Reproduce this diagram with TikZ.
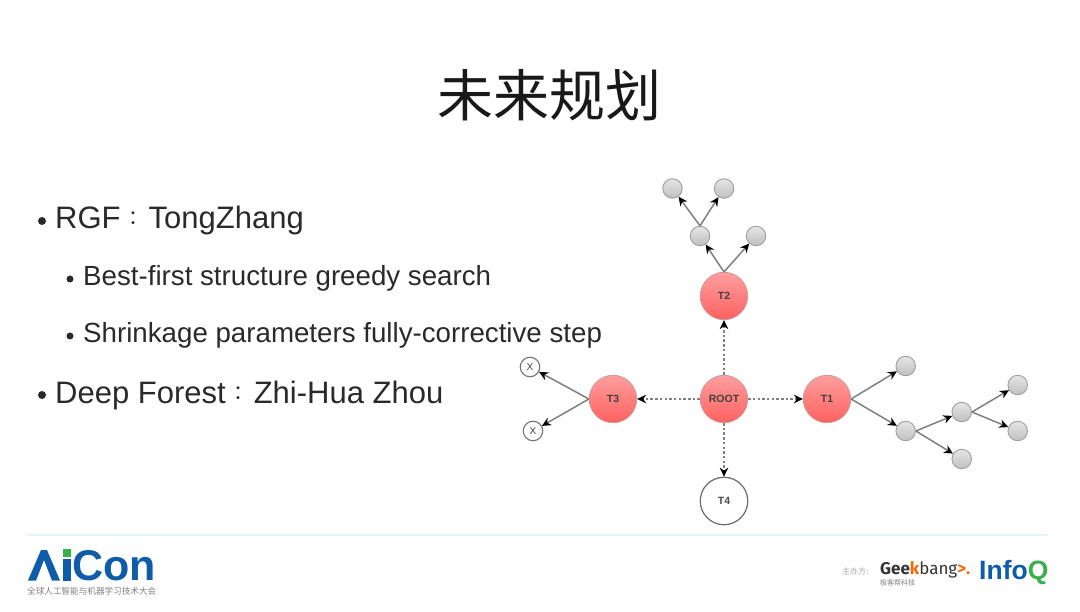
\documentclass[tikz,border=0pt]{standalone}
\usepackage{fontspec}
\setmainfont{Liberation Sans}
\newfontfamily\cjk{Noto Sans CJK SC}
\newfontfamily\logofont{Fira Sans}
\usetikzlibrary{arrows.meta,shadings}
\definecolor{txt}{HTML}{2A2A2A}
\definecolor{acblue}{HTML}{0F5CAB}
\definecolor{acgreen}{HTML}{35B04A}
\newcommand{\widecolon}{\hspace{8pt}\raisebox{4pt}{\cjk\fontsize{20}{22}\selectfont ：}}
\tikzset{
 x=1pt,y=-1pt,
 rednode/.style={circle,minimum size=47.5pt,inner sep=0pt,draw=red!40!black!40!white,line width=.7pt,top color=red!38!white,bottom color=red!62!white,font=\fontsize{10.5}{12}\selectfont\bfseries,text=black!75},
 leaf/.style={circle,minimum size=19.5pt,inner sep=0pt,draw=black!38,line width=.9pt,top color=black!10,bottom color=black!25},
 xnode/.style={circle,minimum size=19.5pt,inner sep=0pt,draw=black!55,line width=1.1pt,fill=white,font=\fontsize{10}{12}\selectfont,text=black!75},
 whitenode/.style={circle,minimum size=47.5pt,inner sep=0pt,draw=black!58,line width=1.2pt,fill=white,font=\fontsize{10.5}{12}\selectfont\bfseries,text=black!70},
 solidedge/.style={draw=black!50,line width=1.5pt,-{Stealth[black,length=9pt,width=8.5pt]}},
 dashedge/.style={draw=black!50,line width=1.3pt,dash pattern=on 2.5pt off 2.2pt,-{Stealth[black,length=9pt,width=8.5pt]}},
 body/.style={anchor=base west,inner sep=0pt,text=txt},
 bigtext/.style={body,font=\fontsize{31}{34}\selectfont},
 midtext/.style={body,font=\fontsize{27.7}{30}\selectfont},
 bullet/.style={circle,fill=txt,inner sep=0pt},
}
\begin{document}
\begin{tikzpicture}
\useasboundingbox (0,0) rectangle (1080,612);
\fill[white] (0,0) rectangle (1080,612);
\node[inner sep=0pt,text=black!90] (title) at (549,95) {\cjk\fontsize{56}{60}\selectfont 未来规划};
% bullets and text
\node[bullet,minimum size=8pt] (b1) at (42,221) {};
\node[bigtext] (t1) at (55,229) {RGF\widecolon TongZhang};
\node[bullet,minimum size=7pt] (b2) at (70,279) {};
\node[midtext] (t2) at (83,286) {Best-first structure greedy search};
\node[bullet,minimum size=7pt] (b3) at (70,336) {};
\node[midtext] (t3) at (83,343) {Shrinkage parameters fully-corrective step};
\node[bullet,minimum size=8pt] (b4) at (42,395) {};
\node[bigtext] (t4) at (55,404) {Deep Forest\widecolon Zhi-Hua Zhou};
% diagram nodes
\node[rednode] (root) at (724,399) {ROOT};
\node[rednode] (T1) at (827,399) {T1};
\node[rednode] (T2) at (724,296) {T2};
\node[rednode] (T3) at (613,399) {T3};
\node[whitenode] (T4) at (724,501) {T4};
\node[leaf] (a) at (700,236) {};
\node[leaf] (b) at (756,236) {};
\node[leaf] (c) at (672.5,188.5) {};
\node[leaf] (d) at (724,188.5) {};
\node[xnode] (x1) at (530,367) {X};
\node[xnode] (x2) at (533,431) {X};
\node[leaf] (e) at (905.7,366) {};
\node[leaf] (f) at (905.7,431) {};
\node[leaf] (g) at (961.7,412) {};
\node[leaf] (h) at (961.7,459) {};
\node[leaf] (i) at (1017.7,385) {};
\node[leaf] (j) at (1017.7,431) {};
% connectors
\draw[dashedge] (root) -- (T1);
\draw[dashedge] (root) -- (T2);
\draw[dashedge] (root) -- (T3);
\draw[dashedge] (root) -- (T4);
\draw[solidedge] (T2.north) -- (a);
\draw[solidedge] (T2.north) -- (b);
\draw[solidedge] (a.north) -- (c);
\draw[solidedge] (a.north) -- (d);
\draw[solidedge] (T3.west) -- (x1);
\draw[solidedge] (T3.west) -- (x2);
\draw[solidedge] (T1.east) -- (e);
\draw[solidedge] (T1.east) -- (f);
\draw[solidedge] (f.east) -- (g);
\draw[solidedge] (f.east) -- (h);
\draw[solidedge] (g.east) -- (i);
\draw[solidedge] (g.east) -- (j);
% footer rule
\draw[draw=cyan!12!white,line width=1.2pt] (27,535) -- (1048,535);
% AiCon logo
\fill[acblue] (28,580.5) -- (41,550) -- (47,550) -- (60,580.5) -- (52,580.5) -- (44,560) -- (36,580.5) -- cycle;
\fill[acgreen] (63,549) -- (70.5,549) -- (70.5,556.5) -- (63,556.5) -- cycle;
\fill[acblue] (63,558.5) rectangle (70.5,580.5);
\node[anchor=base west,inner sep=0pt,text=acblue] (logo) at (72,580.5) {\bfseries\fontsize{43}{44}\selectfont Con};
\node[anchor=base west,inner sep=0pt,text=black!50] (logosub) at (27,594.5) {\cjk\fontsize{8.6}{9}\selectfont 全球人工智能与机器学习技术大会};
% sponsors
\node[anchor=base west,inner sep=0pt,text=black!35] (zb) at (842,574) {\cjk\fontsize{8}{10}\selectfont 主办方:};
\node[anchor=base west,inner sep=0pt,text=black!80] (gk) at (880,574) {\logofont\bfseries\fontsize{17}{18}\selectfont Gee\textcolor{orange!80!red}{k}\mdseries bang\textcolor{orange!80!red}{\bfseries>.}};
\node[anchor=base west,inner sep=0pt,text=black!50] (gksub) at (880,585) {\cjk\fontsize{7}{8}\selectfont 极客帮科技};
\node[anchor=base west,inner sep=0pt,text=acblue] (iq) at (979,579) {\bfseries\fontsize{26.5}{28}\selectfont Info\textcolor{acgreen}{Q}};
\end{tikzpicture}
\end{document}
